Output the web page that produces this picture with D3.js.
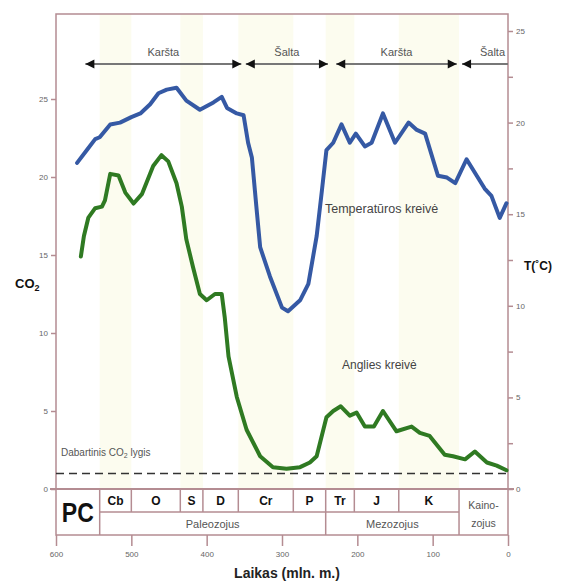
<!DOCTYPE html>
<html>
<head>
<meta charset="utf-8">
<script src="https://cdn.jsdelivr.net/npm/d3@7"></script>
<style>
  body { margin: 0; background: #fff; }
  svg text { font-family: "Liberation Sans", Arial, sans-serif; }
</style>
</head>
<body>
<svg id="chart" width="564" height="581"></svg>
<script>
// temperature curve (right axis, deg C)
var tempAge = [572,559,548,542,528,515,500,488,475,464,453,440,427,409,391,380,373,360,351,345,
               340,334,329,316,300,292,276,265,254,247,241,232,221,210,202,190,181,166,150,132,
               121,110,93,81,70,55,31,22,11,2];
var tempVal = [17.8,18.5,19.1,19.2,19.9,20.0,20.3,20.5,21.0,21.6,21.8,21.9,21.2,20.7,21.1,21.4,20.8,20.5,20.4,18.9,
               18.1,15.4,13.2,11.6,9.9,9.7,10.3,11.2,13.8,16.3,18.5,18.9,19.9,18.9,19.4,18.7,18.9,20.5,18.9,20.0,
               19.6,19.4,17.1,17.0,16.7,18.0,16.4,16.0,14.8,15.6];

// CO2 curve (left axis)
var co2Age = [567,563,557,548,539,535,528,517,508,497,486,471,460,451,440,433,427,418,409,400,
              389,380,376,371,360,347,329,312,294,276,263,254,241,232,222,210,201,190,178,166,
              148,128,117,104,84,73,57,44,28,15,2];
var co2Val = [14.9,16.2,17.4,18.0,18.1,18.5,20.2,20.1,19.0,18.3,18.9,20.7,21.4,21.0,19.6,18.1,16.0,14.2,12.5,12.1,
              12.5,12.5,11.0,8.5,5.9,3.8,2.1,1.4,1.3,1.4,1.7,2.1,4.6,5.0,5.3,4.7,4.9,4.0,4.0,5.0,
              3.7,4.0,3.6,3.4,2.2,2.1,1.9,2.4,1.7,1.5,1.2];
var co2Now = 1;

// geological table
var periods = ["Cb","O","S","D","Cr","P","Tr","J","K"];
var periodStart = [542,500,435,405,358,285,242,204,145];
var periodEnd = [500,435,405,358,285,242,204,145,65];
var eras = ["Paleozojus","Mezozojus"];
var eraStart = [542,242];
var eraEnd = [242,65];

// climate bands on top
var climate = ["Karšta","Šalta","Karšta","Šalta"];
var climStart = [561,348,228,61];
var climEnd = [354,239,68,0];

var xTicks = [600,500,400,300,200,100,0];
var co2Ticks = [0,5,10,15,20,25];
var tTicks = [0,2.5,5,7.5,10,12.5,15,17.5,20,22.5,25];

var svg = d3.select("#chart");
var frameCol = "#b48c92";

var x = d3.scaleLinear().domain([600,0]).range([56,508]);
var yC = d3.scaleLinear().domain([0,25]).range([489,99]);
var yT = d3.scaleLinear().domain([0,25]).range([489,31]);
var plotTop = 14, plotBot = yC(0), tRow = 512, tBot = 535;

// stripes
for (var i=0; i<periods.length; i+=2) {
  svg.append("rect")
     .attr("x", x(periodStart[i]))
     .attr("y", plotTop)
     .attr("width", x(periodEnd[i]) - x(periodStart[i]))
     .attr("height", plotBot - plotTop)
     .attr("fill", "#fcfcef");
}

// frame
svg.append("rect")
   .attr("x", x(600)).attr("y", plotTop)
   .attr("width", x(0)-x(600)).attr("height", plotBot-plotTop)
   .attr("fill", "none").attr("stroke", frameCol).attr("stroke-width", 1.5);

// left axis
var la = svg.append("g").attr("transform", "translate(" + x(600) + ",0)")
  .call(d3.axisLeft(yC).tickValues(co2Ticks).tickSize(5).tickPadding(3));
la.select(".domain").remove();
la.selectAll("line").attr("stroke", frameCol).attr("stroke-width", 1.5);
la.selectAll("text").attr("font-size", 8).attr("fill", "#666");

// right axis
var ra = svg.append("g").attr("transform", "translate(" + x(0) + ",0)")
  .call(d3.axisRight(yT).tickValues(tTicks).tickSize(5).tickPadding(3)
        .tickFormat(function(d){ return d % 5 == 0 ? d : ""; }));
ra.select(".domain").remove();
ra.selectAll("line").attr("stroke", frameCol).attr("stroke-width", 1.5);
ra.selectAll("text").attr("font-size", 8).attr("fill", "#666");

// zero line stretched both sides
svg.append("line")
   .attr("x1", x(600)-6).attr("x2", x(0)+6)
   .attr("y1", plotBot).attr("y2", plotBot)
   .attr("stroke", frameCol).attr("stroke-width", 2);

// table
svg.append("rect")
   .attr("x", x(600)).attr("y", plotBot)
   .attr("width", x(0)-x(600)).attr("height", tBot-plotBot)
   .attr("fill", "none").attr("stroke", frameCol).attr("stroke-width", 1.5);
svg.append("line")
   .attr("x1", x(eraStart[0])).attr("x2", x(eraEnd[1]))
   .attr("y1", tRow).attr("y2", tRow)
   .attr("stroke", frameCol).attr("stroke-width", 1.5);
for (var i=0; i<periods.length; i++) {
  var full = eraStart.indexOf(periodStart[i]) >= 0;
  svg.append("line")
     .attr("x1", x(periodStart[i])).attr("x2", x(periodStart[i]))
     .attr("y1", plotBot).attr("y2", full ? tBot : tRow)
     .attr("stroke", frameCol).attr("stroke-width", 1.5);
  svg.append("text")
     .attr("x", (x(periodStart[i]) + x(periodEnd[i]))/2)
     .attr("y", 505)
     .attr("text-anchor", "middle")
     .attr("font-size", 12).attr("font-weight", "bold").attr("fill", "#111")
     .text(periods[i]);
}
svg.append("line")
   .attr("x1", x(eraEnd[1])).attr("x2", x(eraEnd[1]))
   .attr("y1", plotBot).attr("y2", tBot)
   .attr("stroke", frameCol).attr("stroke-width", 1.5);
for (var i=0; i<eras.length; i++) {
  svg.append("text")
     .attr("x", (x(eraStart[i]) + x(eraEnd[i]))/2)
     .attr("y", 528)
     .attr("text-anchor", "middle")
     .attr("font-size", 11).attr("fill", "#555")
     .text(eras[i]);
}
svg.append("text")
   .attr("x", (x(600) + x(542))/2).attr("y", 522)
   .attr("text-anchor", "middle")
   .attr("font-size", 27).attr("font-weight", "bold").attr("fill", "#111")
   .attr("textLength", 32).attr("lengthAdjust", "spacingAndGlyphs")
   .text("PC");
svg.append("text")
   .attr("x", (x(65) + x(0))/2).attr("y", 509)
   .attr("text-anchor", "middle").attr("font-size", 10.5).attr("fill", "#555")
   .text("Kaino-");
svg.append("text")
   .attr("x", (x(65) + x(0))/2).attr("y", 527)
   .attr("text-anchor", "middle").attr("font-size", 10.5).attr("fill", "#555")
   .text("zojus");

// bottom axis
var ba = svg.append("g").attr("transform", "translate(0," + tBot + ")")
  .call(d3.axisBottom(x).tickValues(xTicks).tickSize(11).tickPadding(5));
ba.select(".domain").remove();
ba.selectAll("line").attr("stroke", frameCol).attr("stroke-width", 1.5);
ba.selectAll("text").attr("font-size", 8).attr("fill", "#666");

// axis titles
svg.append("text")
   .attr("x", 15).attr("y", 288)
   .attr("font-size", 13).attr("font-weight", "bold").attr("fill", "#111")
   .html('CO<tspan font-size="9" dy="3">2</tspan>');
svg.append("text")
   .attr("x", 524).attr("y", 270)
   .attr("font-size", 12).attr("font-weight", "bold").attr("fill", "#111")
   .text("T(˚C)");
svg.append("text")
   .attr("x", 287).attr("y", 578)
   .attr("text-anchor", "middle")
   .attr("font-size", 14).attr("font-weight", "bold").attr("fill", "#222")
   .text("Laikas (mln. m.)");

// climate arrows
var arrowY = 64;
function arrowHead(px, dir) {
  // dir = 1 points right, -1 points left
  svg.append("path")
     .attr("d", "M" + px + "," + arrowY + " l" + (-9*dir) + ",-4.5 l0,9 Z")
     .attr("fill", "#111");
}
for (var i=0; i<climate.length; i++) {
  var x1 = x(climStart[i]), x2 = x(climEnd[i]);
  svg.append("line")
     .attr("x1", x1).attr("x2", x2)
     .attr("y1", arrowY).attr("y2", arrowY)
     .attr("stroke", "#777").attr("stroke-width", 2);
  arrowHead(x1, -1);
  if (climEnd[i] > 0) arrowHead(x2, 1);
  svg.append("text")
     .attr("x", climEnd[i] > 0 ? (x1+x2)/2 : x2 - 3)
     .attr("y", 56)
     .attr("text-anchor", climEnd[i] > 0 ? "middle" : "end")
     .attr("font-size", 11).attr("fill", "#555")
     .text(climate[i]);
}

// present CO2 level
svg.append("line")
   .attr("x1", x(600)).attr("x2", x(0))
   .attr("y1", yC(co2Now)).attr("y2", yC(co2Now))
   .attr("stroke", "#333").attr("stroke-width", 1.5)
   .attr("stroke-dasharray", "8,5");
svg.append("text")
   .attr("x", 61).attr("y", 456)
   .attr("font-size", 10).attr("fill", "#555")
   .html('Dabartinis CO<tspan font-size="7" dy="2">2</tspan><tspan dy="-2"> lygis</tspan>');

// curves
var tLine = d3.line()
  .x(function(d){ return x(d[0]); })
  .y(function(d){ return yT(d[1]); });
var cLine = d3.line()
  .x(function(d){ return x(d[0]); })
  .y(function(d){ return yC(d[1]); });

svg.append("path")
   .datum(d3.zip(co2Age, co2Val))
   .attr("d", cLine)
   .attr("fill", "none").attr("stroke", "#2f7a22").attr("stroke-width", 4)
   .attr("stroke-linejoin", "round").attr("stroke-linecap", "round");
svg.append("path")
   .datum(d3.zip(tempAge, tempVal))
   .attr("d", tLine)
   .attr("fill", "none").attr("stroke", "#3559a4").attr("stroke-width", 4)
   .attr("stroke-linejoin", "round").attr("stroke-linecap", "round");

svg.append("text")
   .attr("x", 325).attr("y", 213)
   .attr("font-size", 12.5).attr("fill", "#444")
   .text("Temperatūros kreivė");
svg.append("text")
   .attr("x", 342).attr("y", 369)
   .attr("font-size", 12).attr("fill", "#444")
   .text("Anglies kreivė");
</script>
</body>
</html>
